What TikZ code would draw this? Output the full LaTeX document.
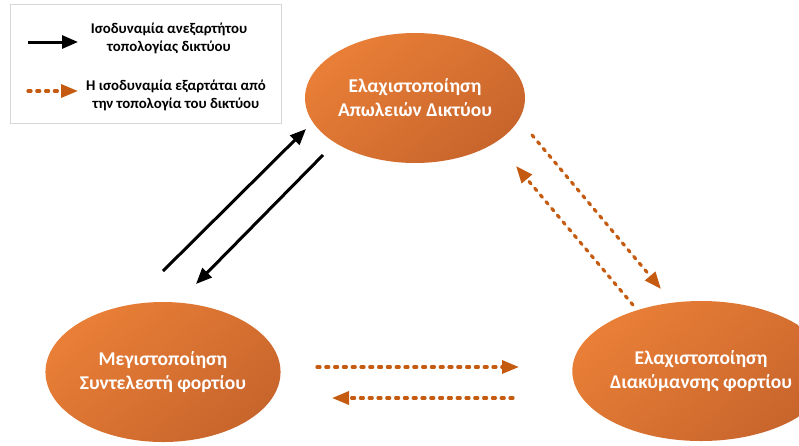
\documentclass[tikz,border=0pt]{standalone}
\usepackage{fontspec}
\setmainfont{Carlito}
\usetikzlibrary{arrows.meta,shapes.geometric}
\definecolor{orlight}{HTML}{E97F37}
\definecolor{ordark}{HTML}{C8652C}
\definecolor{arrorange}{HTML}{C55A11}
\definecolor{boxgray}{HTML}{D6D6D6}
\begin{document}
\begin{tikzpicture}[x=1pt,y=-1pt,
  goal/.style={ellipse, inner sep=0pt, shading=axis, top color=orlight,
    bottom color=ordark, shading angle=40, text=white, align=center,
    font=\bfseries\fontsize{19.5}{24}\selectfont},
  indep/.style={line width=3pt, black, -{Triangle[length=16pt,width=13pt]}},
  dep/.style={line width=3.2pt, arrorange, line cap=round,
    dash pattern=on 3pt off 5.8pt, -{Triangle[length=17pt,width=13pt]}},
  legendtext/.style={align=center, font=\bfseries\fontsize{14.8}{18.5}\selectfont}
]
\useasboundingbox (0,0) rectangle (799,445);

% legend
\node[draw=boxgray, line width=0.8pt, minimum width=271pt, minimum height=119pt,
  inner sep=0pt] (legend) at (145.5,63.5) {};
\coordinate (k1s) at (28,42);  \coordinate (k1e) at (78,42);
\coordinate (k2s) at (28,91);  \coordinate (k2e) at (78,91);
\draw[indep] (k1s) -- (k1e);
\draw[dep] (k2s) -- (k2e);
\node[legendtext] (l1) at (169,38.5) {Ισοδυναμία ανεξαρτήτου\\τοπολογίας δικτύου};
\node[legendtext] (l2) at (176,95.5) {Η ισοδυναμία εξαρτάται από\\την τοπολογία του δικτύου};

% objectives
\node[goal, minimum width=220pt, minimum height=130pt] (loss) at (415,98)
  {Ελαχιστοποίηση\\Απωλειών Δικτύου};
\node[goal, minimum width=226pt, minimum height=140pt] (lf) at (163,372)
  {Μεγιστοποίηση\\Συντελεστή φορτίου};
\node[goal, minimum width=206pt, minimum height=140pt] (var) at (701,371)
  {Ελαχιστοποίηση\\Διακύμανσης φορτίου};

% connector end points
\coordinate (a1) at (163,271);  \coordinate (a2) at (306,129);
\coordinate (b1) at (323,155);  \coordinate (b2) at (196,284);
\coordinate (c1) at (532,135);  \coordinate (c2) at (661,289);
\coordinate (d1) at (633,305);  \coordinate (d2) at (516,166);
\coordinate (e1) at (317,367);  \coordinate (e2) at (519,367);
\coordinate (f1) at (513,398);  \coordinate (f2) at (332,398);

\draw[indep] (a1) -- (a2);
\draw[indep] (b1) -- (b2);
\draw[dep] (c1) -- (c2);
\draw[dep] (d1) -- (d2);
\draw[dep] (e1) -- (e2);
\draw[dep] (f1) -- (f2);
\end{tikzpicture}
\end{document}
